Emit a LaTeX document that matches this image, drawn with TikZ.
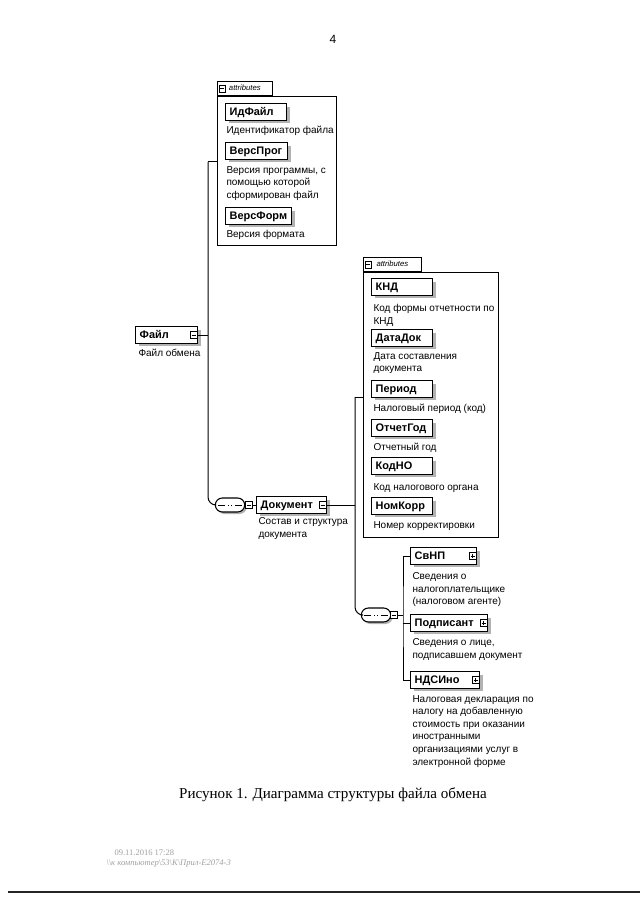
\documentclass[tikz,border=0pt]{standalone}
\usepackage{fontspec}
\setmainfont{Liberation Serif}
\setsansfont{Liberation Sans}
\usetikzlibrary{shadows,shapes.misc}

\tikzset{every picture/.style={line width=0.75pt}}
\tikzset{
  elem/.style={draw, line width=1.1pt, fill=white, anchor=west, minimum height=12.5pt,
    inner xsep=3pt, inner ysep=0pt, text height=6pt, text depth=0.5pt, align=left,
    font=\sffamily\bfseries\fontsize{8.2}{9}\selectfont,
    general shadow={fill=gray!60, shadow xshift=2.2pt, shadow yshift=-2.2pt}},
  descr/.style={anchor=north west, inner sep=0pt, align=left,
    font=\sffamily\fontsize{7.5}{9.4}\selectfont},
  attrbox/.style={draw, line width=0.6pt, anchor=north west, inner sep=0pt},
  attrtab/.style={draw, line width=0.6pt, anchor=south west, inner sep=0pt, inner xsep=1.5pt,
    minimum height=10.5pt, text height=4.5pt, text depth=1pt, align=right,
    font=\sffamily\itshape\fontsize{5.8}{6}\selectfont},
  togbox/.style={draw, fill=white, line width=0.5pt, minimum size=5.2pt, inner sep=0pt,
    path picture={\draw[line width=0.5pt] ([xshift=1pt]path picture bounding box.west)
      -- ([xshift=-1pt]path picture bounding box.east);}},
  togplus/.style={draw, fill=white, line width=0.5pt, minimum size=5.2pt, inner sep=0pt,
    path picture={\draw[line width=0.5pt] ([xshift=1pt]path picture bounding box.west)
      -- ([xshift=-1pt]path picture bounding box.east);
      \draw[line width=0.5pt] ([yshift=1pt]path picture bounding box.south)
      -- ([yshift=-1pt]path picture bounding box.north);}},
  seqbox/.style={draw, fill=white, rounded rectangle, line width=0.8pt, minimum width=22pt,
    minimum height=10.5pt, inner sep=0pt,
    general shadow={fill=gray!60, shadow xshift=1.5pt, shadow yshift=-1.5pt},
    path picture={\draw[line width=0.6pt] ([xshift=2.2pt]path picture bounding box.west)
      -- ([xshift=-2.2pt]path picture bounding box.east);
      \foreach \d in {-2.6,0,2.6}
        \fill ([xshift=\d pt]path picture bounding box.center) +(-1pt,-1pt) rectangle +(1pt,1pt);}},
  link/.style={line width=0.75pt}
}

\begin{document}
\begin{tikzpicture}[x=0.75pt,y=0.75pt,yscale=-1,xscale=1]
\useasboundingbox (0,0) rectangle (640,905);

% page number
\node[font=\sffamily\fontsize{9}{10}\selectfont] (pagenum) at (333,39) {4};

% root element
\node[elem, text width=40.5pt] (fileT) at (135,335) {Файл};
\node[togbox] (fileTm) at ([xshift=-3.5pt]fileT.east) {};
\node[descr] (fileD) at (138,349) {Файл обмена};

% attributes of the file
\node[attrbox, minimum width=89.25pt, minimum height=111.75pt] (attrA) at (217,96) {};
\node[attrtab, minimum width=41.25pt] (tabA) at (attrA.north west) {attributes};
\node[togbox] (tabAm) at ([xshift=4pt]tabA.west) {};

\node[elem, text width=39.75pt] (idfile) at (225,112) {ИдФайл};
\node[descr] (idfileD) at (226,126) {Идентификатор файла};
\node[elem, text width=40.5pt] (versprog) at (225,151) {ВерсПрог};
\node[descr] (versprogD) at (226,166) {Версия программы, с\\помощью которой\\сформирован файл};
\node[elem, text width=43.5pt] (versform) at (225,216) {ВерсФорм};
\node[descr] (versformD) at (226,230) {Версия формата};

% document
\node[seqbox] (seqA) at (230,505) {};
\node[togbox] (seqAm) at (249,505) {};
\node[elem, text width=46.5pt] (docT) at (256,505) {Документ};
\node[togbox] (docTm) at ([xshift=-3.5pt]docT.east) {};
\node[descr] (docD) at (258,517) {Состав и структура\\документа};

\coordinate (topA) at (208,162);
\draw[link] (fileT.east) -- (fileT.east -| topA);
\draw[link] (attrA.west |- topA) -- (topA);
\draw[link, rounded corners=6] (topA) |- (seqA.west);
\draw[link] (seqA.east) -- (seqAm.west);
\draw[link] (seqAm.east) -- (docT.west);

% attributes of the document
\node[attrbox, minimum width=101.25pt, minimum height=198.75pt] (attrB) at (363,272) {};
\node[attrtab, minimum width=43.5pt] (tabB) at (attrB.north west) {attributes};
\node[togbox] (tabBm) at ([xshift=4pt]tabB.west) {};

\node[elem, text width=39.75pt] (knd) at (371,287) {КНД};
\node[descr] (kndD) at (373,304) {Код формы отчетности по\\КНД};
\node[elem, text width=39.75pt] (datadok) at (371,338) {ДатаДок};
\node[descr] (datadokD) at (373,352) {Дата составления\\документа};
\node[elem, text width=39.75pt] (period) at (371,389) {Период};
\node[descr] (periodD) at (373,404) {Налоговый период (код)};
\node[elem, text width=39.75pt] (otchet) at (371,428) {ОтчетГод};
\node[descr] (otchetD) at (373,443) {Отчетный год};
\node[elem, text width=39.75pt] (kodno) at (371,466) {КодНО};
\node[descr] (kodnoD) at (373,483) {Код налогового органа};
\node[elem, text width=39.75pt] (nomkorr) at (371,506) {НомКорр};
\node[descr] (nomkorrD) at (373,521) {Номер корректировки};

% children of the document
\node[seqbox] (seqB) at (376,615) {};
\node[togbox] (seqBm) at (394,615) {};
\node[elem, text width=43.5pt] (svnp) at (410,556) {СвНП};
\node[togplus] (svnpm) at ([xshift=-3.5pt]svnp.east) {};
\node[descr] (svnpD) at (412,572) {Сведения о\\налогоплательщике\\(налоговом агенте)};
\node[elem, text width=51.75pt] (podp) at (410,623) {Подписант};
\node[togplus] (podpm) at ([xshift=-3.5pt]podp.east) {};
\node[descr] (podpD) at (412,638) {Сведения о лице,\\подписавшем документ};
\node[elem, text width=45.75pt] (ndsino) at (410,680) {НДСИно};
\node[togplus] (ndsinom) at ([xshift=-3.5pt]ndsino.east) {};
\node[descr] (ndsinoD) at (412,695) {Налоговая декларация по\\налогу на добавленную\\стоимость при оказании\\иностранными\\организациями услуг в\\электронной форме};

\coordinate (topB) at (355,397);
\coordinate (jC) at (403,615);
\draw[link] (docT.east) -- (docT.east -| topB);
\draw[link] (attrB.west |- topB) -- (topB);
\draw[link, rounded corners=6] (topB) |- (seqB.west);
\draw[link] (seqB.east) -- (seqBm.west);
\draw[link] (seqBm.east) -- (jC);
\draw[link] (svnp.west) -| (jC) |- (ndsino.west);
\draw[link] (podp.west) -- (podp.west -| jC);

% caption
\node[font=\fontsize{11.3}{13}\selectfont] (caption) at (333,795) {Рисунок 1. Диаграмма структуры файла обмена};

% footer
\node[anchor=west, inner sep=0pt, text=gray!75, font=\fontsize{6.4}{7}\selectfont] (stamp) at (114,853) {09.11.2016 17:28};
\node[anchor=west, inner sep=0pt, text=gray!75, font=\itshape\fontsize{6.4}{7}\selectfont] (path) at (106,864) {\textbackslash\textbackslash к компьютер\textbackslash 53\textbackslash К\textbackslash Прил-Е2074-3};
\coordinate (ruleL) at (8,892);
\coordinate (ruleR) at (640,892);
\draw[line width=1.1pt, color=black!85] (ruleL) -- (ruleR);

\end{tikzpicture}
\end{document}
